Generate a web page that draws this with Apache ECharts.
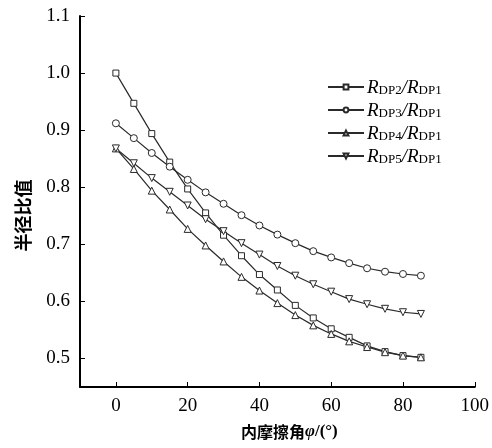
<!DOCTYPE html>
<html>
<head>
<meta charset="utf-8">
<script src="https://cdn.jsdelivr.net/npm/echarts@6/dist/echarts.min.js"></script>
<style>html,body{margin:0;padding:0;background:#fff}#c{width:492px;height:448px}</style>
</head>
<body>
<div id="c"></div>
<script>
const phi = [0,5,10,15,20,25,30,35,40,45,50,55,60,65,70,75,80,85];
const r2 = [1.000,0.947,0.894,0.844,0.797,0.755,0.716,0.680,0.647,0.620,0.593,0.571,0.552,0.537,0.522,0.512,0.505,0.502];
const r3 = [0.912,0.886,0.860,0.836,0.813,0.791,0.771,0.751,0.733,0.717,0.702,0.688,0.677,0.667,0.658,0.652,0.648,0.645];
const r4 = [0.868,0.832,0.794,0.761,0.727,0.698,0.670,0.643,0.619,0.597,0.576,0.558,0.543,0.530,0.520,0.511,0.505,0.502];
const r5 = [0.868,0.842,0.816,0.792,0.768,0.744,0.723,0.702,0.682,0.662,0.645,0.630,0.617,0.604,0.595,0.587,0.581,0.578];
const seriesNames = ['R2','R3','R4','R5'];
const legendSubs = ['DP2','DP3','DP4','DP5'];
const xTicks = [0,20,40,60,80,100];
const yTicks = [0.5,0.6,0.7,0.8,0.9,1.0,1.1];

const serif = '"Liberation Serif","DejaVu Serif",serif';
const cjk = '"Noto Sans CJK SC",sans-serif';
const lineColor = '#2a2a2a';
const symbols = ['rect','circle','triangle','path://M0,0 L10,0 L5,9 Z'];
const sizes = [6,7,7,7];
const datas = [r2,r3,r4,r5];

const chart = echarts.init(document.getElementById('c'), null, {renderer:'canvas'});
chart.setOption({
  animation:false,
  backgroundColor:'#fff',
  grid:{left:80,right:13,top:16,bottom:61,containLabel:false},
  legend:{
    left:322, top:73, orient:'vertical', itemGap:4,
    itemWidth:36, itemHeight:6,
    data:seriesNames,
    formatter:function(n){const i=seriesNames.indexOf(n);return '{i|R}{s|'+legendSubs[i]+'}{i|/R}{s|DP1}';},
    textStyle:{
      padding:[0,0,0,-2],
      rich:{
        i:{fontFamily:serif,fontStyle:'italic',fontSize:19,color:'#000',lineHeight:20,verticalAlign:'bottom'},
        s:{fontFamily:serif,fontSize:13,color:'#000',lineHeight:20,verticalAlign:'bottom'}
      }
    }
  },
  xAxis:{
    type:'value', min:-10, max:100,
    axisLine:{show:true,onZero:false,lineStyle:{color:'#000',width:2}},
    axisTick:{show:true,inside:true,length:5,customValues:xTicks,lineStyle:{color:'#000',width:1}},
    axisLabel:{customValues:xTicks,margin:10,fontFamily:serif,fontSize:19,color:'#000'},
    splitLine:{show:false},
    name:'{c|内摩擦角}{i|φ}{r|/(°)}',
    nameLocation:'middle', nameGap:36,
    nameTextStyle:{padding:[0,0,0,24],rich:{
      c:{fontFamily:cjk,fontWeight:'bold',fontSize:16,color:'#000'},
      i:{fontFamily:serif,fontStyle:'italic',fontWeight:'bold',fontSize:17,color:'#000'},
      r:{fontFamily:serif,fontWeight:'bold',fontSize:17,color:'#000'}
    }}
  },
  yAxis:{
    type:'value', min:0.45, max:1.1,
    axisLine:{show:true,onZero:false,lineStyle:{color:'#000',width:2}},
    axisTick:{show:true,inside:true,length:5,customValues:yTicks,lineStyle:{color:'#000',width:1}},
    axisLabel:{customValues:yTicks,margin:10,fontFamily:serif,fontSize:19,color:'#000',formatter:v=>v.toFixed(1)},
    splitLine:{show:false},
    name:'半径比值',
    nameLocation:'middle', nameGap:48, nameRotate:90,
    nameTextStyle:{fontFamily:cjk,fontWeight:'bold',fontSize:18,color:'#000',padding:[0,28,0,0]}
  },
  series:datas.map((d,i)=>({
    name:seriesNames[i], type:'line',
    data:d.map((v,j)=>[phi[j],v]),
    symbol:symbols[i], symbolSize:sizes[i], showSymbol:true,
    lineStyle:{color:lineColor,width:1.2},
    itemStyle:{color:'#fff',borderColor:lineColor,borderWidth:1},
    emphasis:{disabled:true}
  }))
});
</script>
</body>
</html>
